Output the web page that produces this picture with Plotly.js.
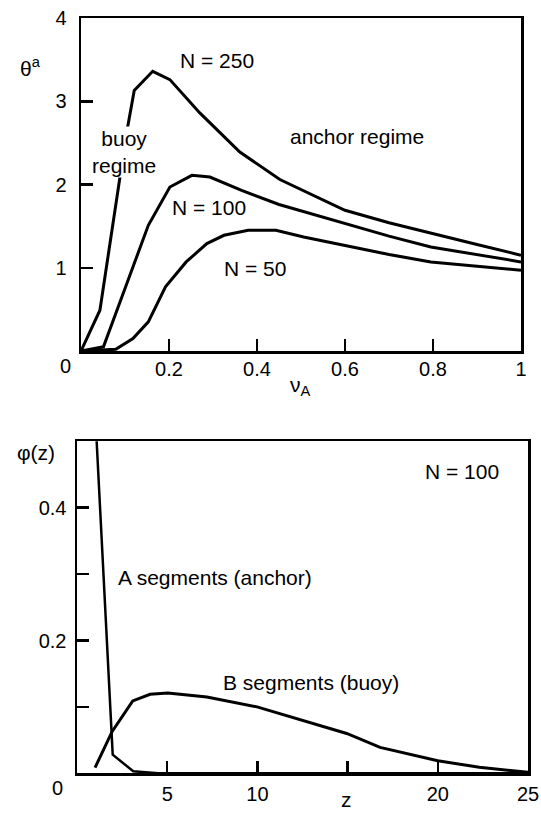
<!DOCTYPE html>
<html>
<head>
<meta charset="utf-8">
<script src="https://cdn.plot.ly/plotly-3.0.1.min.js"></script>
<style>html,body{margin:0;padding:0;background:#fff;}#chart{width:541px;height:813px;}</style>
</head>
<body>
<div id="chart"></div>
<script>
// ---- Top panel: theta^a vs nu_A ----
const nuA_N250 = [0, 0.043, 0.104, 0.121, 0.163, 0.202, 0.27, 0.361, 0.452, 0.6, 0.7, 0.795, 0.9, 1.0];
const theta_N250 = [0, 0.49, 2.63, 3.13, 3.36, 3.26, 2.86, 2.39, 2.06, 1.69, 1.54, 1.42, 1.28, 1.15];

const nuA_N100 = [0, 0.051, 0.1, 0.153, 0.202, 0.252, 0.293, 0.365, 0.45, 0.6, 0.7, 0.795, 0.9, 1.0];
const theta_N100 = [0, 0.05, 0.75, 1.51, 1.97, 2.11, 2.09, 1.93, 1.76, 1.53, 1.38, 1.25, 1.16, 1.07];

const nuA_N50 = [0, 0.079, 0.118, 0.153, 0.192, 0.239, 0.286, 0.325, 0.38, 0.443, 0.506, 0.6, 0.7, 0.795, 0.9, 1.0];
const theta_N50 = [0, 0.02, 0.15, 0.35, 0.77, 1.07, 1.29, 1.39, 1.45, 1.45, 1.37, 1.27, 1.16, 1.07, 1.02, 0.97];

const topXTicks = [0.2, 0.4, 0.6, 0.8, 1];
const topXTickText = ['0.2', '0.4', '0.6', '0.8', '1'];
const topYTicks = [1, 2, 3, 4];
const topYTickText = ['1', '2', '3', '4'];

// ---- Bottom panel: phi(z) vs z, N = 100 ----
const zA = [1.05, 1.98, 3.12, 4.5, 25];
const phiA = [0.521, 0.028, 0.003, 0, 0];

const zB = [1.0, 1.95, 3.09, 4.05, 5.03, 7.2, 9.98, 13.7, 14.95, 16.8, 18.3, 20.0, 22.3, 24.7, 25];
const phiB = [0.0085, 0.063, 0.109, 0.119, 0.121, 0.115, 0.100, 0.070, 0.060, 0.039, 0.030, 0.019, 0.009, 0.0025, 0.0015];

const botXTicks = [5, 10, 20, 25];
const botXTickText = ['5', '10', '20', '25'];
const botXMinorStep = 5;
const botYTicks = [0.2, 0.4];
const botYTickText = ['0.2', '0.4'];
const botYMinorStep = 0.1;

const W = 541, H = 813;
const px = v => v / W;
const py = v => 1 - v / H;
const FONT = 'Liberation Sans, Arial, sans-serif';
const black = '#000';

const lineStyle = {color: black, width: 3, shape: 'linear'};

const traces = [
  {x: nuA_N250, y: theta_N250, xaxis: 'x', yaxis: 'y', mode: 'lines', line: lineStyle, name: 'N = 250'},
  {x: nuA_N100, y: theta_N100, xaxis: 'x', yaxis: 'y', mode: 'lines', line: lineStyle, name: 'N = 100'},
  {x: nuA_N50, y: theta_N50, xaxis: 'x', yaxis: 'y', mode: 'lines', line: lineStyle, name: 'N = 50'},
  {x: zA, y: phiA, xaxis: 'x2', yaxis: 'y2', mode: 'lines', line: {color: black, width: 2.5}, name: 'A segments'},
  {x: zB, y: phiB, xaxis: 'x2', yaxis: 'y2', mode: 'lines', line: lineStyle, name: 'B segments'}
];

const axisCommon = {
  showline: true, linecolor: black, linewidth: 2.5, mirror: true,
  ticks: 'inside', ticklen: 12, tickwidth: 2.5, tickcolor: black,
  showgrid: false, zeroline: false, fixedrange: true,
  tickfont: {family: FONT, size: 20, color: black}
};

const ann = (text, x, y, size, extra) => Object.assign({
  text: text, x: px(x), y: py(y), xref: 'paper', yref: 'paper',
  showarrow: false, xanchor: 'center', yanchor: 'middle',
  font: {family: FONT, size: size || 21, color: black}
}, extra || {});

const layout = {
  width: W, height: H,
  margin: {l: 0, r: 0, t: 0, b: 0},
  paper_bgcolor: '#fff', plot_bgcolor: '#fff',
  showlegend: false,
  xaxis: Object.assign({}, axisCommon, {
    domain: [px(81), px(521)], range: [0, 1], anchor: 'y',
    tickvals: topXTicks, ticktext: topXTickText, ticklabelstandoff: -2
  }),
  yaxis: Object.assign({}, axisCommon, {
    domain: [py(351), py(18)], range: [0, 4], anchor: 'x',
    tickvals: topYTicks, ticktext: topYTickText, ticklabelstandoff: 8
  }),
  xaxis2: Object.assign({}, axisCommon, {
    domain: [px(77), px(528)], range: [0, 25], anchor: 'y2',
    tickvals: botXTicks, ticktext: botXTickText, ticklabelstandoff: 1,
    minor: {dtick: botXMinorStep, tick0: 0, ticks: 'inside', ticklen: 12, tickwidth: 2.5, tickcolor: black, showgrid: false}
  }),
  yaxis2: Object.assign({}, axisCommon, {
    domain: [py(773.3), py(441.3)], range: [0, 0.5], anchor: 'x2',
    tickvals: botYTicks, ticktext: botYTickText, ticklabelstandoff: 4,
    minor: {dtick: botYMinorStep, tick0: 0, ticks: 'inside', ticklen: 12, tickwidth: 2.5, tickcolor: black, showgrid: false}
  }),
  annotations: [
    ann('θ<sup>a</sup>', 31, 67),
    ann('0', 65, 366, 20),
    ann('ν<sub>A</sub>', 300, 386),
    ann('N = 250', 217, 61),
    ann('buoy<br>regime', 124, 152, 21, {bgcolor: '#fff', borderpad: 0}),
    ann('anchor regime', 357, 137),
    ann('N = 100', 209, 207),
    ann('N = 50', 255, 268),
    ann('φ(z)', 36, 452),
    ann('0', 57, 788, 20),
    ann('N = 100', 462, 471),
    ann('A segments (anchor)', 215, 577),
    ann('B segments (buoy)', 311, 682),
    ann('z', 346, 799)
  ]
};

Plotly.newPlot('chart', traces, layout, {staticPlot: true, displayModeBar: false});
</script>
</body>
</html>
